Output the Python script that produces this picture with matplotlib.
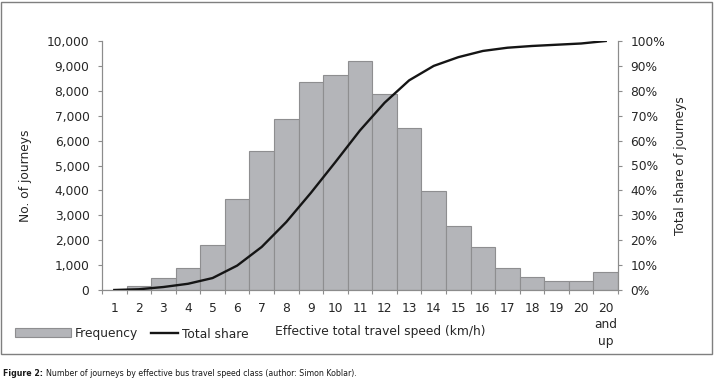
import matplotlib.pyplot as plt
from matplotlib import font_manager
from matplotlib.patches import Patch, Rectangle
from matplotlib.lines import Line2D
from matplotlib.ticker import FuncFormatter, MultipleLocator

# speed classes (km/h)
speed_labels = ['1', '2', '3', '4', '5', '6', '7', '8', '9', '10', '11', '12',
                '13', '14', '15', '16', '17', '18', '19', '20', '20\nand\nup']
# number of journeys per class
journeys = [10, 150, 500, 900, 1800, 3640, 5580, 6880, 8370, 8630, 9200, 7860,
            6490, 3990, 2570, 1740, 900, 535, 360, 360, 735]
# cumulative share of journeys (%)
total_share = [0, 0.3, 1.2, 2.5, 4.8, 9.8, 17.3, 27.3, 39.0, 51.4, 64.1, 75.2,
               84.2, 90.0, 93.5, 96.0, 97.3, 98.0, 98.5, 99.0, 100]

plt.rcParams['font.family'] = ['DejaVu Sans']
txt = '#262626'
spine_c = '#8c8c8c'
fs = 8.8

# a narrow face for the caption, if one is installed
narrow = None
for f in font_manager.fontManager.ttflist:
    if f.stretch in ('condensed', 'semi-condensed', 'extra-condensed') or 'Narrow' in f.name or 'Condensed' in f.name:
        if 'Sans' in f.name:
            narrow = f
            break

fig = plt.figure(figsize=(7.14, 3.89), dpi=100)
W, H = 714, 389
ax = fig.add_axes([102 / W, 1 - 290 / H, 516 / W, 249 / H])
ax2 = ax.twinx()

x = list(range(len(journeys)))
ax.bar(x, journeys, width=1.0, color='#b4b5b9', edgecolor='#8e8e90', linewidth=0.8, zorder=2)
ax2.plot(x, total_share, color='#151515', linewidth=1.7, zorder=3)

ax.set_xlim(-0.5, len(journeys) - 0.5)
ax.set_ylim(0, 10000)
ax2.set_ylim(0, 100)

ax.yaxis.set_major_locator(MultipleLocator(1000))
ax.yaxis.set_major_formatter(FuncFormatter(lambda v, p: f'{int(v):,}'))
ax2.yaxis.set_major_locator(MultipleLocator(10))
ax2.yaxis.set_major_formatter(FuncFormatter(lambda v, p: f'{int(v)}%'))

ax.set_xticks(x)
ax.set_xticklabels(speed_labels, linespacing=1.3)
ax.set_xticks([i - 0.5 for i in range(len(journeys) + 1)], minor=True)
ax.tick_params(axis='x', which='major', length=0, pad=9, labelsize=fs, labelcolor=txt)
ax.tick_params(axis='x', which='minor', length=3, width=0.8, color=spine_c, direction='out')
ax.tick_params(axis='y', length=3, width=0.8, color=spine_c, pad=6, labelsize=fs, labelcolor=txt)
ax2.tick_params(axis='y', length=3, width=0.8, color=spine_c, pad=6, labelsize=fs, labelcolor=txt)

for a in (ax, ax2):
    a.spines['top'].set_visible(False)
    for s in ('left', 'right', 'bottom'):
        a.spines[s].set_color(spine_c)
        a.spines[s].set_linewidth(0.8)

ax.set_ylabel('No. of journeys', fontsize=fs, color=txt)
ax.yaxis.set_label_coords(-0.136, 0.46)
ax2.set_ylabel('Total share of journeys', fontsize=fs, color=txt)
ax2.yaxis.set_label_coords(1.108, 0.5)
ax.set_xlabel('Effective total travel speed (km/h)', fontsize=fs, color=txt)
ax.xaxis.set_label_coords(0.54, -0.142)

# legend (two pieces, different handle lengths)
leg1 = fig.legend(handles=[Patch(facecolor='#b4b5b9', edgecolor='#8e8e90', linewidth=0.8)],
                  labels=['Frequency'], loc='center left', bbox_to_anchor=(15 / W, 1 - 333 / H),
                  frameon=False, fontsize=fs, handlelength=4.6, handleheight=0.75,
                  handletextpad=0.3, borderaxespad=0, borderpad=0, labelcolor=txt)
leg2 = fig.legend(handles=[Line2D([], [], color='#151515', linewidth=1.7)],
                  labels=['Total share'], loc='center left', bbox_to_anchor=(151 / W, 1 - 334 / H),
                  frameon=False, fontsize=fs, handlelength=2.2, handletextpad=0.3,
                  borderaxespad=0, borderpad=0, labelcolor=txt)

# outer frame
fig.patches.append(Rectangle((1 / W, 1 - 354 / H), 711 / W, 352 / H, transform=fig.transFigure,
                             fill=False, edgecolor='#7f7f7f', linewidth=1))

# caption
if narrow is not None:
    cap_kw = dict(family=narrow.name, stretch=narrow.stretch, fontsize=6.3)
else:
    cap_kw = dict(family='Liberation Sans', fontsize=5.6)
t1 = fig.text(3 / W, 1 - 373 / H, 'Figure 2:', fontweight='bold', color='#1a1a1a',
              va='center', **cap_kw)
ax.annotate('Number of journeys by effective bus travel speed class (author: Simon Koblar).',
            xy=(1, 0.5), xycoords=t1, xytext=(2, 0), textcoords='offset points',
            va='center', color='#1a1a1a', annotation_clip=False, **cap_kw)

fig.savefig('out.png', dpi=100)
